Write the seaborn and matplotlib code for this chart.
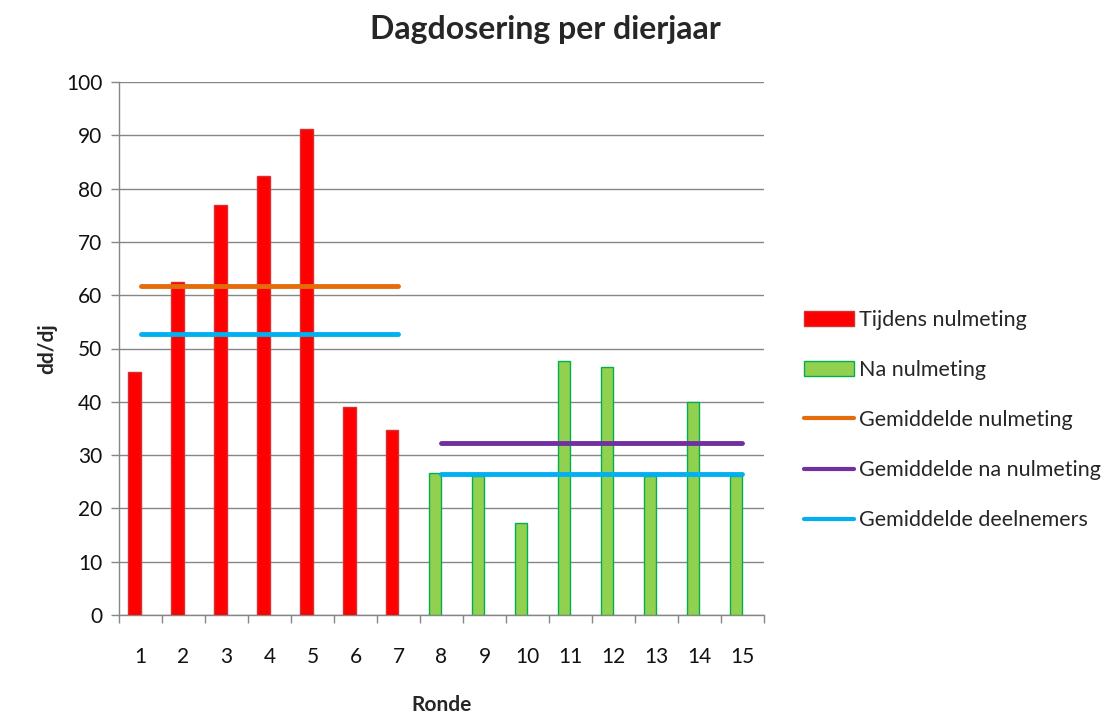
import matplotlib
matplotlib.use("Agg")
import matplotlib.pyplot as plt
import seaborn as sns
import pandas as pd
import numpy as np
from matplotlib.lines import Line2D
from matplotlib.patches import Patch

rondes = list(range(1, 16))
tijdens_rondes = [1, 2, 3, 4, 5, 6, 7]
tijdens_values = [45.6, 62.5, 77.0, 82.4, 91.2, 39.0, 34.7]
na_rondes = [8, 9, 10, 11, 12, 13, 14, 15]
na_values = [26.6, 26.0, 17.3, 47.7, 46.5, 26.0, 40.0, 26.0]

gem_nulmeting = 61.8
gem_na_nulmeting = 32.3
gem_deelnemers_tijdens = 52.8
gem_deelnemers_na = 26.4

series_names = ["Tijdens nulmeting", "Na nulmeting", "Gemiddelde nulmeting",
                "Gemiddelde na nulmeting", "Gemiddelde deelnemers"]

c_red, c_red_edge = "#FF0000", "#D83030"
c_green, c_green_edge = "#92D050", "#00B050"
c_orange, c_purple, c_blue = "#E46C0A", "#7030A0", "#00B0F0"

sns.set_theme(style="white")
plt.rcParams['font.family'] = ['Lato', 'DejaVu Sans']

fig = plt.figure(figsize=(11.07, 7.17), dpi=100)
ax = fig.add_axes([119/1107, 1-615/717, (764-119)/1107, (615-82)/717])

offset = -0.15
df = pd.DataFrame({
    "x": [r + offset for r in tijdens_rondes] + [r + offset for r in na_rondes],
    "y": tijdens_values + na_values,
    "groep": [series_names[0]] * len(tijdens_rondes) + [series_names[1]] * len(na_rondes),
})
sns.barplot(data=df, x="x", y="y", hue="groep", native_scale=True, dodge=False,
            width=0.3, saturation=1,
            palette={series_names[0]: c_red, series_names[1]: c_green},
            ax=ax, legend=False, zorder=3)
for patch in ax.patches:
    fc = patch.get_facecolor()
    if fc[1] > 0.5:
        patch.set_edgecolor(c_green_edge)
    else:
        patch.set_edgecolor(c_red_edge)
    patch.set_linewidth(1.0)

def hline(xs, val, color):
    sns.lineplot(x=[xs[0], xs[-1]], y=[val, val], color=color, lw=3.5, ax=ax,
                 solid_capstyle="round", zorder=4)

hline(tijdens_rondes, gem_nulmeting, c_orange)
hline(tijdens_rondes, gem_deelnemers_tijdens, c_blue)
hline(na_rondes, gem_na_nulmeting, c_purple)
hline(na_rondes, gem_deelnemers_na, c_blue)

ax.set_xlim(0.5, 15.5)
ax.set_ylim(0, 100)
ax.set_yticks(np.arange(0, 101, 10))
ax.set_xticks(rondes)
ax.set_xticks(np.arange(0.5, 15.6, 1), minor=True)
ax.tick_params(axis="x", which="major", length=0, pad=23, labelsize=15, colors="#111111")
ax.tick_params(axis="x", which="minor", length=6, width=1, color="#868686", direction="out", bottom=True)
ax.tick_params(axis="y", length=6, width=1, color="#868686", direction="out", left=True,
               labelsize=15, colors="#111111", pad=6)
ax.grid(axis="y", color="#868686", lw=1, zorder=0)
ax.set_axisbelow(True)
for s in ["top", "right"]:
    ax.spines[s].set_visible(False)
for s in ["left", "bottom"]:
    ax.spines[s].set_color("#868686")
    ax.spines[s].set_linewidth(1)

ax.set_xlabel("Ronde", fontsize=15, fontweight="bold", labelpad=20)
ax.set_ylabel("dd/dj", fontsize=15, fontweight="bold", labelpad=6)
fig.text(545/1107, 1-29/717, "Dagdosering per dierjaar", ha="center", va="center",
         fontsize=23, fontweight="bold")

handles = [
    Patch(facecolor=c_red, edgecolor=c_red_edge),
    Patch(facecolor=c_green, edgecolor=c_green_edge),
    Line2D([0], [0], color=c_orange, lw=3),
    Line2D([0], [0], color=c_purple, lw=3),
    Line2D([0], [0], color=c_blue, lw=3),
]
fig.legend(handles, series_names, loc="center left",
           bbox_to_anchor=(785/1107, 1-420/717), frameon=False, fontsize=15.5,
           handlelength=2.3, handleheight=0.7, handletextpad=0.25, labelspacing=1.4)

fig.savefig("out.png", dpi=100)
